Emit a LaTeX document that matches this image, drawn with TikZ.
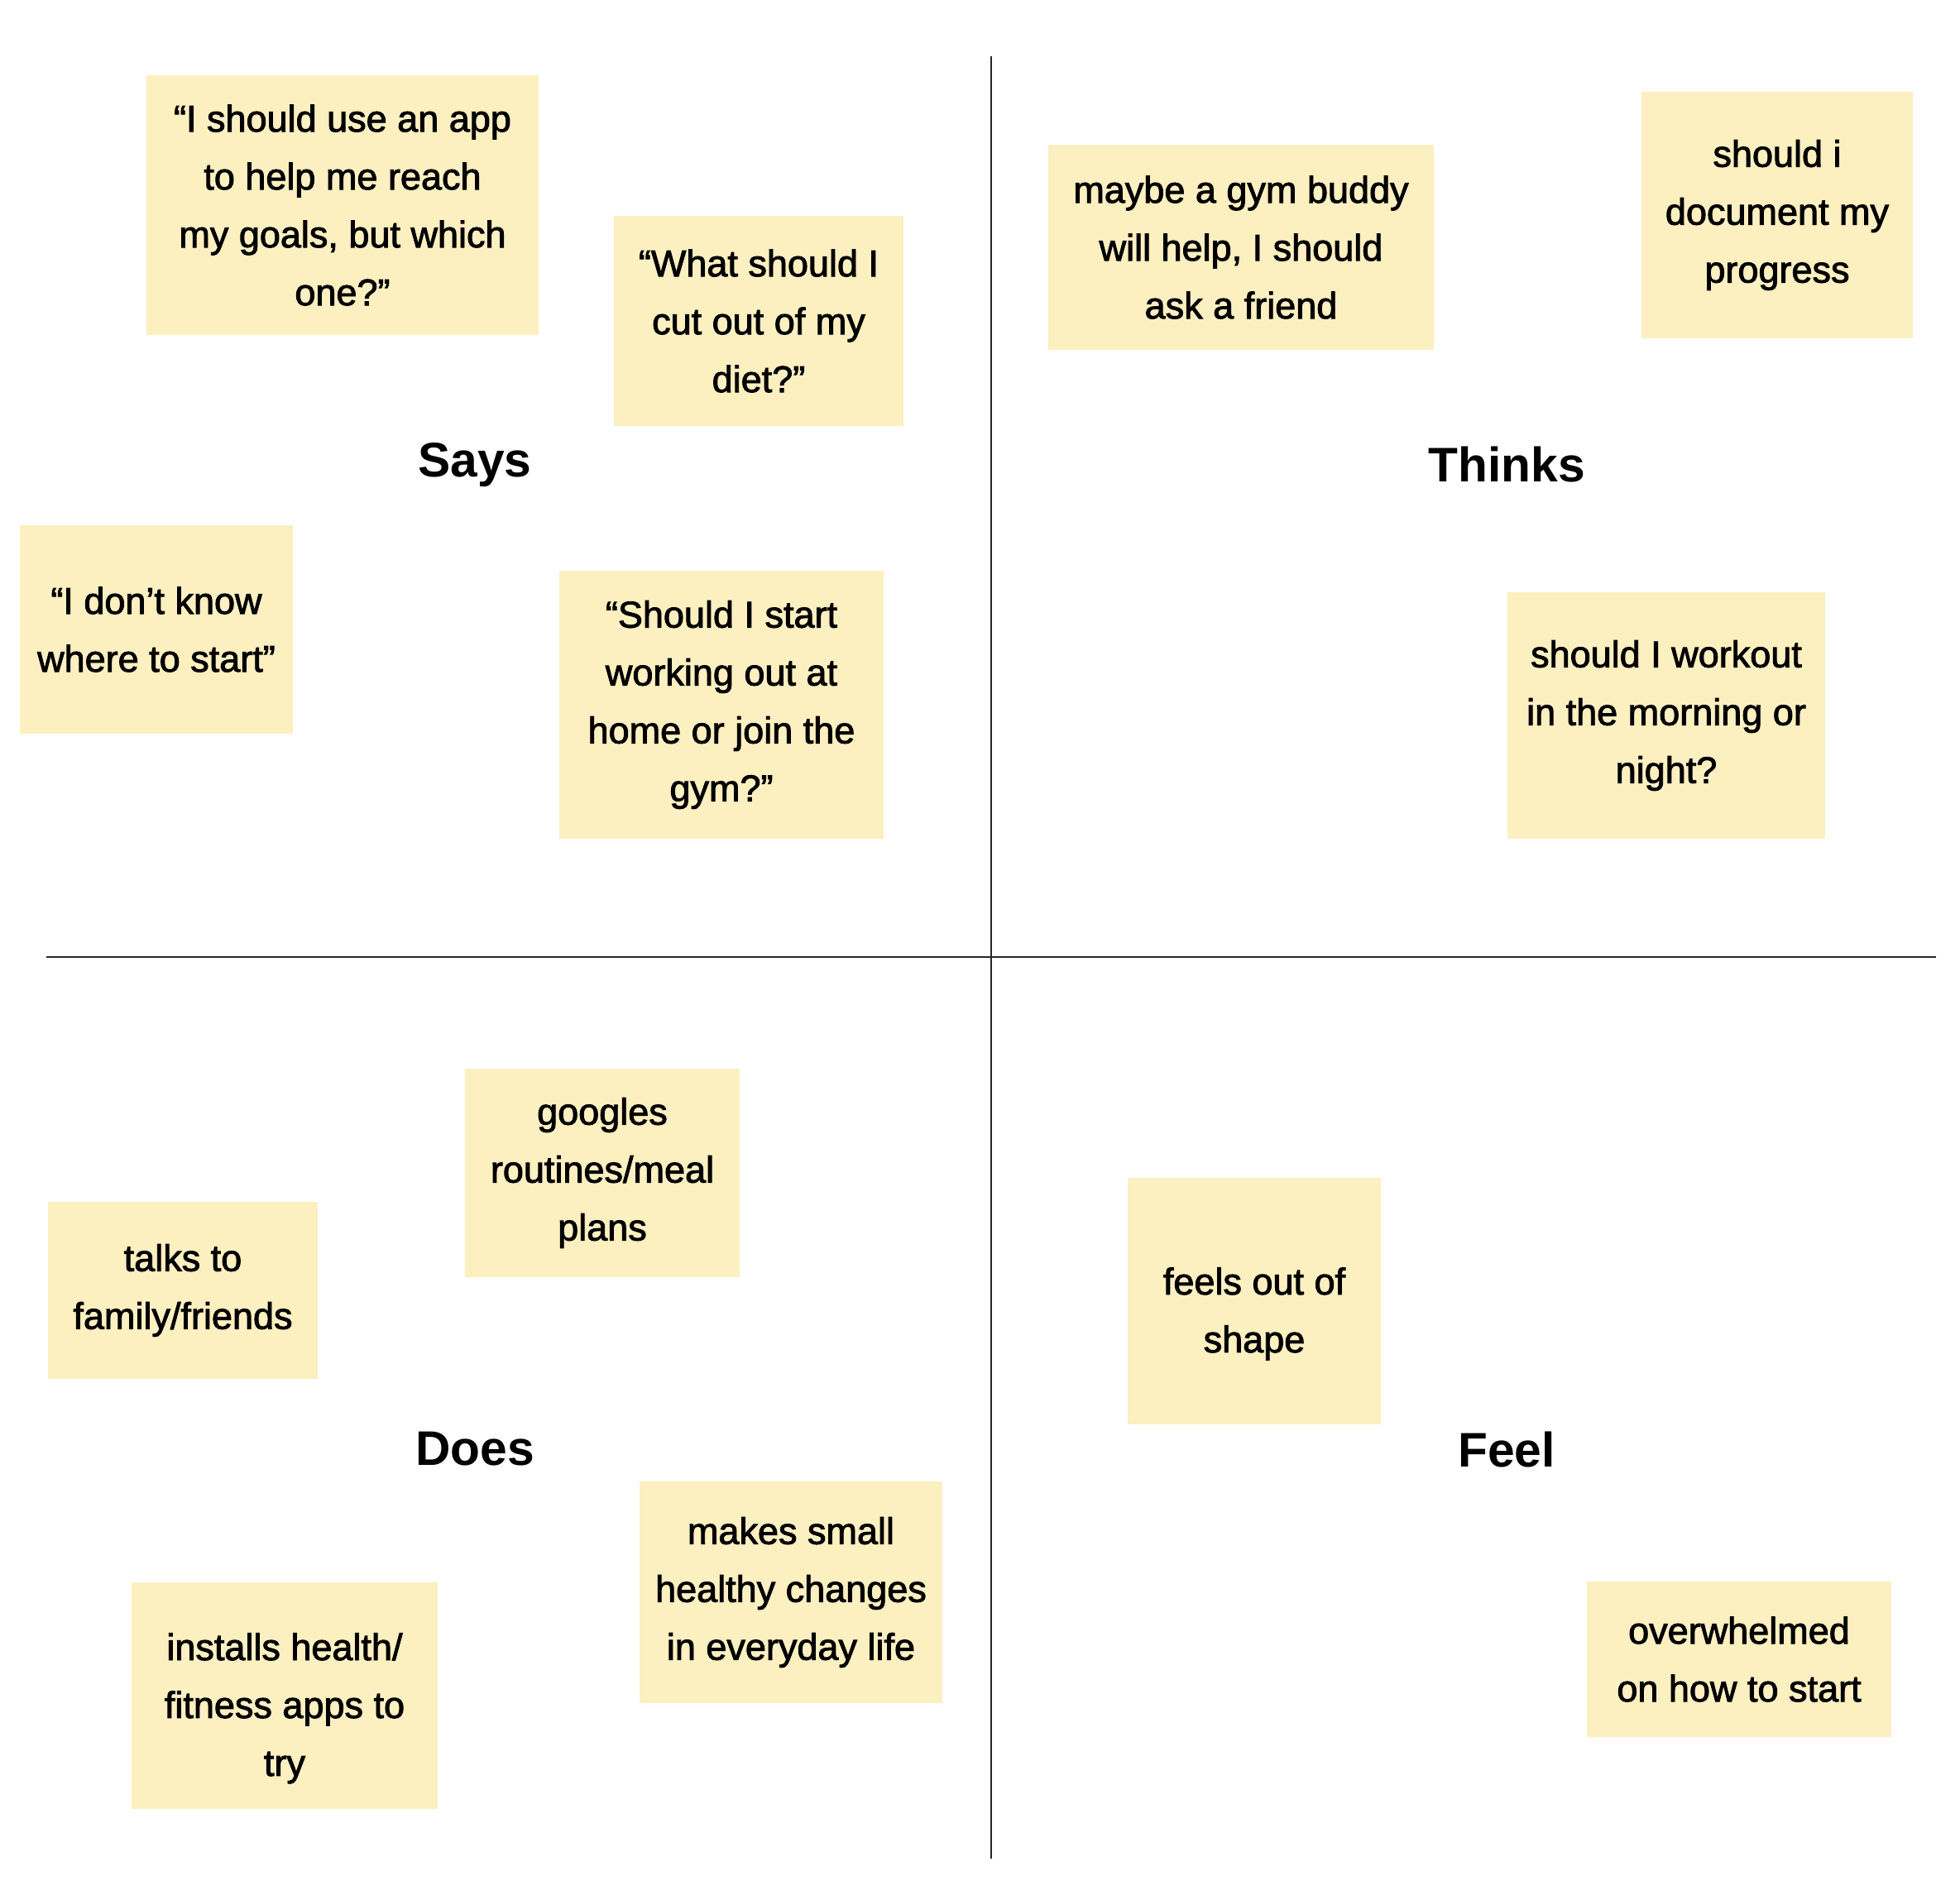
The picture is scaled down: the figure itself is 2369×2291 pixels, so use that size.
\documentclass[tikz,border=0pt]{standalone}
\usepackage{fontspec}
\setmainfont{Liberation Sans}
\newfontfamily\notefont{Liberation Sans}[FakeBold=2]
\usepackage{xcolor}
\usepackage{tikz}
\usetikzlibrary{positioning}
\definecolor{stickyyellow}{HTML}{FCEFC0}
\tikzset{
    map/.style={font=\notefont\fontsize{12.8pt}{19.9pt}\selectfont},
    map note/.style={fill=stickyyellow, align=center, inner sep=0pt},
    map heading/.style={font=\bfseries\fontsize{16.7pt}{20pt}\selectfont},
    map divider/.style={line width=0.6pt, black!85},
}
\newcommand{\lowerline}{\rule{0pt}{18pt}}
\begin{document}
\begin{tikzpicture}[map, x=0.01cm, y=-0.01cm]
            \useasboundingbox (0,0) rectangle (2369,2291);
            % quadrant dividers
            \coordinate (top) at (1198,68);
            \coordinate (bottom) at (1198,2247);
            \coordinate (left) at (56,1157);
            \coordinate (right) at (2340,1157);
            \draw[map divider] (top) -- (bottom);
            \draw[map divider] (left) -- (right);
            % headings
            \node[map heading] (says) at (574,562) {Says};
            \node[map heading] (thinks) at (1821,562) {Thinks};
            \node[map heading] (does) at (574,1752) {Does};
            \node[map heading] (feel) at (1821,1752) {Feel};
            % says
            \node[map note, minimum width=4.74cm, minimum height=3.14cm]
                (appquote) at (414,248) {“I should use an app\\to help me reach\\my goals, but which\\one?”};
            \node[map note, minimum width=3.5cm, minimum height=2.53cm]
                (dietquote) at (917,388) {“What should I\\cut out of my\\diet?”};
            \node[map note, minimum width=3.3cm, minimum height=2.51cm]
                (startquote) at (189,761) {“I don’t know\\where to start”};
            \node[map note, minimum width=3.91cm, minimum height=3.24cm]
                (gymquote) at (872,852) {“Should I start\\working out at\\home or join the\\gym?”};
            % thinks
            \node[map note, minimum width=4.65cm, minimum height=2.48cm]
                (buddy) at (1500,299) {maybe a gym buddy\\will help, I should\\ask a friend};
            \node[map note, minimum width=3.28cm, minimum height=2.97cm]
                (progress) at (2148,260) {should i\\document my\\progress};
            \node[map note, minimum width=3.84cm, minimum height=2.98cm]
                (timing) at (2014,865) {should I workout\\in the morning or\\night?};
            % does
            \node[map note, minimum width=3.32cm, minimum height=2.52cm]
                (googles) at (728,1418) {googles\\routines/meal\\plans};
            \node[map note, minimum width=3.25cm, minimum height=2.13cm]
                (talks) at (221,1560) {talks to\\family/friends};
            \node[map note, minimum width=3.65cm, minimum height=2.67cm]
                (changes) at (956,1925) {makes small\\healthy changes\\in everyday life};
            \node[map note, minimum width=3.7cm, minimum height=2.73cm]
                (installs) at (344,2050) {\lowerline installs health/\\fitness apps to\\try};
            % feel
            \node[map note, minimum width=3.06cm, minimum height=2.97cm]
                (shape) at (1516,1573) {\lowerline feels out of\\shape};
            \node[map note, minimum width=3.67cm, minimum height=1.87cm]
                (overwhelmed) at (2102,2006) {overwhelmed\\on how to start};
        \end{tikzpicture}
\end{document}
